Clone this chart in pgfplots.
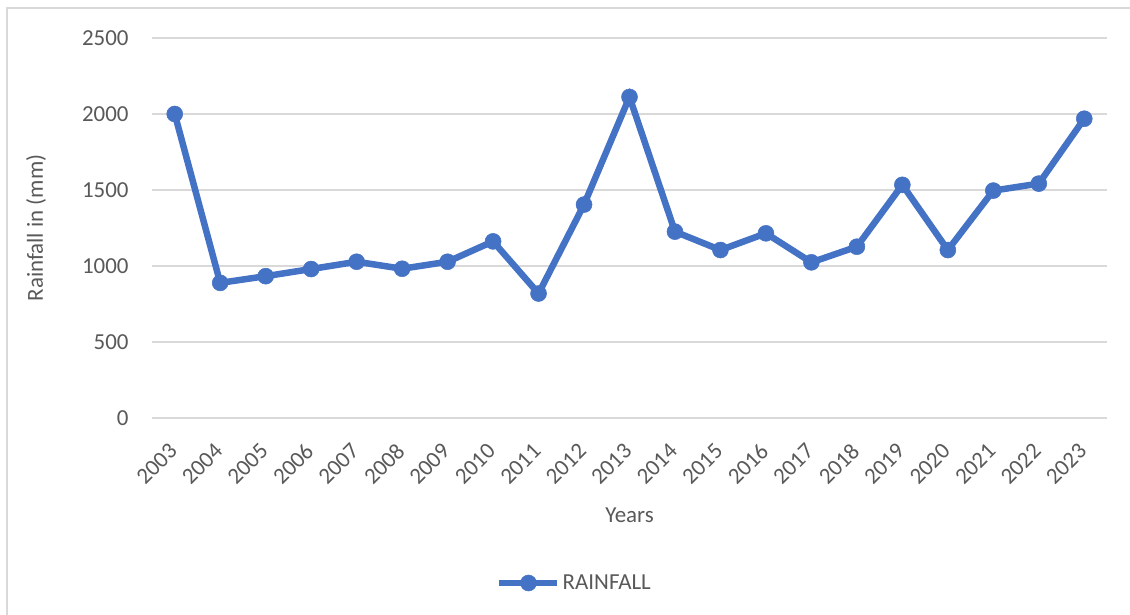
\documentclass[border=0pt]{standalone}
\usepackage{pgfplots}
\pgfplotsset{compat=1.18}
\usepackage{fontspec}
\setmainfont{Carlito}
\definecolor{rainblue}{HTML}{4472C4}
\definecolor{txtgray}{HTML}{595959}
\definecolor{gridgray}{HTML}{D9D9D9}
\begin{document}
\begin{tikzpicture}
  \useasboundingbox[fill=white] (0bp,0bp) rectangle (1130bp,615bp);
  % chart frame (only left and top edges show in the crop)
  \draw[gridgray, line width=2bp] (7bp,0bp) -- (7bp,607bp) -- (1130bp,607bp);
  \begin{axis}[
      at={(152bp,197bp)}, anchor=south west,
      scale only axis,
      width=955bp, height=380bp,
      xmin=-0.5, xmax=20.5,
      ymin=0, ymax=2500,
      ytick={0,500,...,2500},
      xtick={0,...,20},
      xticklabels={2003,2004,2005,2006,2007,2008,2009,2010,2011,2012,2013,2014,2015,2016,2017,2018,2019,2020,2021,2022,2023},
      axis line style={draw=none},
      tick style={draw=none},
      ymajorgrids,
      grid style={gridgray, line width=1.5bp},
      /pgf/number format/assume math mode=true,
      /pgf/number format/1000 sep={},
      ticklabel style={font=\fontsize{23}{27}\selectfont, text=txtgray},
      yticklabel style={xshift=-20bp},
      % shifts are along the rotated axes
      xticklabel style={rotate=45, anchor=east, xshift=-18.5bp, yshift=-19.7bp},
      label style={font=\fontsize{23}{27}\selectfont, text=txtgray},
      xlabel={Years},
      xlabel style={at={(axis description cs:0.5,0)}, anchor=center, yshift=-97bp},
      ylabel={Rainfall in (mm)},
      ylabel style={at={(axis description cs:0,0.5)}, anchor=center, yshift=116bp},
      legend style={at={(axis description cs:0.5,0)}, anchor=center,
        xshift=-55bp, yshift=-165bp,
        draw=none, fill=none, font=\fontsize{23}{27}\selectfont, text=txtgray,
        legend cell align=left, inner sep=0pt},
      legend image code/.code={
        \draw[mark repeat=2, mark phase=2] plot coordinates {(0bp,0bp) (29bp,0bp) (58bp,0bp)};
      },
    ]
    \addplot[rainblue, line width=6.5bp, mark=*, mark size=8bp,
      mark options={fill=rainblue, draw=rainblue, line width=0.5bp}]
      coordinates {
        (0,2000) (1,889) (2,933) (3,980) (4,1028) (5,982) (6,1028)
        (7,1162) (8,819) (9,1404) (10,2112) (11,1226) (12,1105)
        (13,1215) (14,1024) (15,1127) (16,1534) (17,1105) (18,1496)
        (19,1542) (20,1969)
      };
    \addlegendentry{RAINFALL}
  \end{axis}
\end{tikzpicture}
\end{document}
